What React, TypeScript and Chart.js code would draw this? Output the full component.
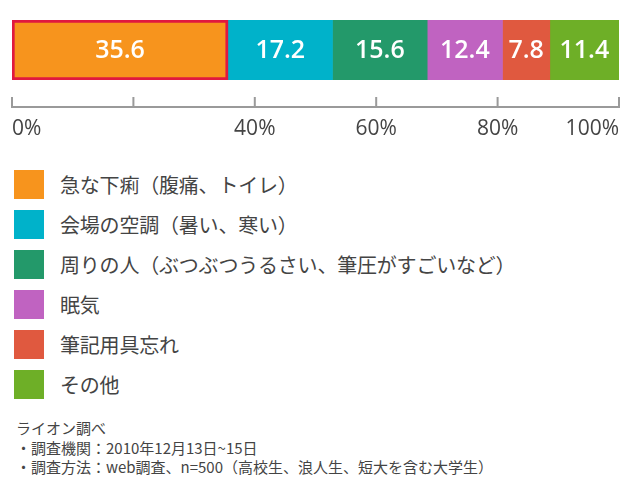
import { useEffect, useRef } from 'react';
import { Chart, registerables, Plugin } from 'chart.js';

Chart.register(...registerables);

const categories = [
  '急な下痢（腹痛、トイレ）',
  '会場の空調（暑い、寒い）',
  '周りの人（ぶつぶつうるさい、筆圧がすごいなど）',
  '眠気',
  '筆記用具忘れ',
  'その他',
];
const values = [35.6, 17.2, 15.6, 12.4, 7.8, 11.4];
const colors = ['#F7941D', '#00B2CA', '#23996A', '#C063C1', '#E0593F', '#6EAF27'];
const tickValues = [0, 20, 40, 60, 80, 100];
const tickLabels = ['0%', '', '40%', '60%', '80%', '100%'];
const notes = [
  'ライオン調べ',
  '・調査機関：2010年12月13日~15日',
  '・調査方法：web調査、n=500（高校生、浪人生、短大を含む大学生）',
];

const FONT = '"Noto Sans CJK JP", "Noto Sans", sans-serif';
const NUM_FONT = '"Open Sans", "Noto Sans", sans-serif';
const TEXT = '#444';

// axis line with upward ticks
const axisPlugin: Plugin = {
  id: 'axisLine',
  afterDraw(chart) {
    const { ctx, chartArea } = chart;
    const scale = chart.scales.x;
    const y = chartArea.bottom + 27;
    ctx.save();
    ctx.strokeStyle = '#9a9a9a';
    ctx.lineWidth = 2;
    ctx.beginPath();
    ctx.moveTo(scale.getPixelForValue(0) - 1, y);
    ctx.lineTo(scale.getPixelForValue(100) + 1, y);
    tickValues.forEach((v) => {
      const x = scale.getPixelForValue(v);
      ctx.moveTo(x, y);
      ctx.lineTo(x, y - 10);
    });
    ctx.stroke();
    ctx.restore();
  },
};

const valueLabels: Plugin = {
  id: 'valueLabels',
  afterDatasetsDraw(chart) {
    const { ctx } = chart;
    ctx.save();
    ctx.fillStyle = '#fff';
    ctx.font = `600 25px ${NUM_FONT}`;
    ctx.textAlign = 'center';
    ctx.textBaseline = 'middle';
    chart.data.datasets.forEach((ds, i) => {
      const bar: any = chart.getDatasetMeta(i).data[0];
      if (!bar) return;
      ctx.fillText(String(ds.data[0]), (bar.x + bar.base) / 2, bar.y + 1);
    });
    ctx.restore();
  },
};

function BarChart() {
  const chartRef = useRef<HTMLCanvasElement>(null);
  const chartInstance = useRef<Chart | null>(null);

  useEffect(() => {
    if (!chartRef.current) return;
    if (chartInstance.current) chartInstance.current.destroy();

    chartInstance.current = new Chart(chartRef.current, {
      type: 'bar',
      data: {
        labels: [''],
        datasets: values.map((v, i) => ({
          label: categories[i],
          data: [v],
          backgroundColor: colors[i],
          borderColor: i === 0 ? '#E0193F' : colors[i],
          borderWidth: i === 0 ? 3 : 0,
          borderSkipped: false,
          barPercentage: 1,
          categoryPercentage: 1,
        })),
      },
      options: {
        indexAxis: 'y',
        animation: false,
        responsive: true,
        maintainAspectRatio: false,
        layout: { padding: { top: 20, left: 12, right: 21, bottom: 0 } },
        plugins: {
          legend: { display: false },
          tooltip: { enabled: false },
        },
        scales: {
          x: {
            stacked: true,
            min: 0,
            max: 100,
            border: { display: false },
            grid: { display: false },
            afterBuildTicks: (axis) => {
              axis.ticks = tickValues.map((value) => ({ value }));
            },
            afterFit: (axis: any) => {
              axis.height = 70;
              axis.paddingLeft = 0;
              axis.paddingRight = 0;
            },
            ticks: {
              align: 'inner',
              padding: 28,
              color: TEXT,
              font: { family: NUM_FONT, size: 21 },
              callback: (v) => tickLabels[tickValues.indexOf(Number(v))] ?? '',
            },
          },
          y: {
            stacked: true,
            display: false,
          },
        },
      },
      plugins: [axisPlugin, valueLabels],
    });

    return () => {
      if (chartInstance.current) {
        chartInstance.current.destroy();
        chartInstance.current = null;
      }
    };
  }, []);

  return (
    <div style={{ position: 'absolute', left: 0, top: 0, width: 640, height: 150 }}>
      <canvas ref={chartRef}></canvas>
    </div>
  );
}

export default function App() {
  useEffect(() => {
    document.body.style.margin = '0';
  }, []);

  return (
    <div style={{ position: 'relative', width: 640, height: 490, background: '#fff', fontFamily: FONT, color: TEXT }}>
      <BarChart />
      <div style={{ position: 'absolute', left: 14, top: 170 }}>
        {categories.map((c, i) => (
          <div key={c} style={{ display: 'flex', height: 40 }}>
            <div style={{ width: 30, height: 29, background: colors[i], flex: 'none' }} />
            <span style={{ marginLeft: 16, fontSize: 20, lineHeight: '29px', letterSpacing: -0.2 }}>{c}</span>
          </div>
        ))}
      </div>
      <div style={{ position: 'absolute', left: 16, top: 418, fontSize: 15, lineHeight: '19.5px' }}>
        {notes.map((n) => (
          <div key={n}>{n}</div>
        ))}
      </div>
    </div>
  );
}
